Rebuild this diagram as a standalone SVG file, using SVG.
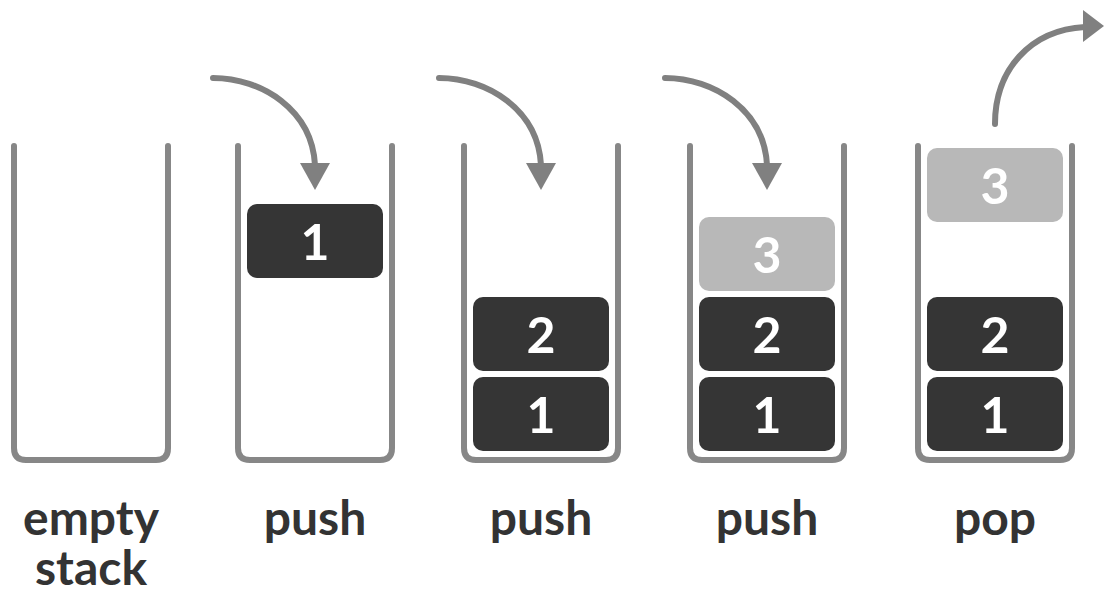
<svg xmlns="http://www.w3.org/2000/svg" width="1104" height="599" viewBox="0 0 1104 599">
<style>
.cont{fill:none;stroke:#878787;stroke-width:6;stroke-linecap:round;stroke-linejoin:round}
.blk{fill:#353535}
.lt{fill:#b8b8b8}
.num{font-family:Lato,"Liberation Sans",sans-serif;font-weight:bold;font-size:50px;fill:#ffffff;text-anchor:middle}
.lbl{font-family:Lato,"Liberation Sans",sans-serif;font-weight:bold;font-size:48px;fill:#333333;text-anchor:middle}
.arr{fill:none;stroke:#808080;stroke-width:6;stroke-linecap:round}
.head{fill:#808080}
</style>
<rect width="1104" height="599" fill="#ffffff"/>
<g id="stack-empty">
<path class="cont" d="M14,146 V448 Q14,460 26,460 H156 Q168,460 168,448 V146"/>
<text class="lbl" x="91" y="535">empty</text>
<text class="lbl" x="91" y="585">stack</text>
</g>
<g id="stack-push1">
<path class="cont" d="M238,146 V448 Q238,460 250,460 H380 Q392,460 392,448 V146"/>
<rect class="blk" x="247" y="204" width="136" height="74" rx="10"/>
<text class="num" x="315" y="260">1</text>
<text class="lbl" x="315" y="535">push</text>
</g>
<g id="stack-push2">
<path class="cont" d="M464,146 V448 Q464,460 476,460 H606 Q618,460 618,448 V146"/>
<rect class="blk" x="473" y="297" width="136" height="74" rx="10"/>
<text class="num" x="541" y="353">2</text>
<rect class="blk" x="473" y="377" width="136" height="74" rx="10"/>
<text class="num" x="541" y="433">1</text>
<text class="lbl" x="541" y="535">push</text>
</g>
<g id="stack-push3">
<path class="cont" d="M690,146 V448 Q690,460 702,460 H832 Q844,460 844,448 V146"/>
<rect class="lt" x="699" y="217" width="136" height="74" rx="10"/>
<text class="num" x="767" y="273">3</text>
<rect class="blk" x="699" y="297" width="136" height="74" rx="10"/>
<text class="num" x="767" y="353">2</text>
<rect class="blk" x="699" y="377" width="136" height="74" rx="10"/>
<text class="num" x="767" y="433">1</text>
<text class="lbl" x="767" y="535">push</text>
</g>
<g id="stack-pop">
<path class="cont" d="M918,146 V448 Q918,460 930,460 H1060 Q1072,460 1072,448 V146"/>
<rect class="lt" x="927" y="148" width="136" height="74" rx="10"/>
<text class="num" x="995" y="204">3</text>
<rect class="blk" x="927" y="297" width="136" height="74" rx="10"/>
<text class="num" x="995" y="353">2</text>
<rect class="blk" x="927" y="377" width="136" height="74" rx="10"/>
<text class="num" x="995" y="433">1</text>
<text class="lbl" x="995" y="535">pop</text>
</g>
<g id="connectors">
<path class="arr" d="M213,78 C262,78 312,110 315,165"/>
<polygon class="head" points="300,163 330,163 315,190"/>
<path class="arr" d="M439,78 C488,78 538,110 541,165"/>
<polygon class="head" points="526,163 556,163 541,190"/>
<path class="arr" d="M665,78 C714,78 764,110 767,165"/>
<polygon class="head" points="752,163 782,163 767,190"/>
<path class="arr" d="M995,124 C995,70 1030,30 1085,27"/>
<polygon class="head" points="1083,10 1083,42 1104,26"/>
</g>
</svg>
